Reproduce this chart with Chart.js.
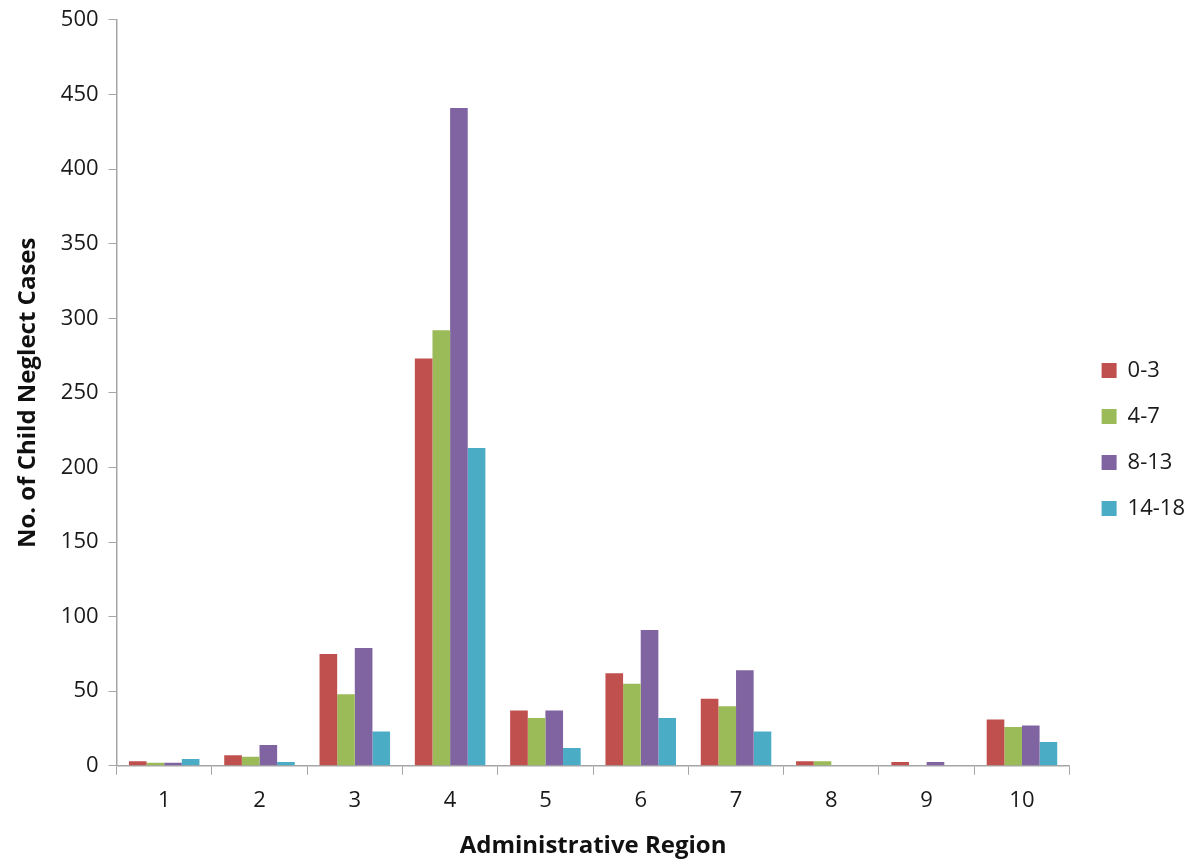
<!DOCTYPE html>
<html>
<head>
<meta charset="utf-8">
<script src="https://cdn.jsdelivr.net/npm/chart.js@4/dist/chart.umd.min.js"></script>
<style>
  html, body { margin: 0; padding: 0; background: #fff; }
  #wrap { width: 1201px; height: 863px; }
</style>
</head>
<body>
<div id="wrap"><canvas id="chart"></canvas></div>
<script>
// regions on the x axis
const regions = ['1', '2', '3', '4', '5', '6', '7', '8', '9', '10'];

// child neglect cases by age group
const age0to3 = [3, 7, 75, 273, 37, 62, 45, 3, 2.5, 31];
const age4to7 = [2, 6, 48, 292, 32, 55, 40, 3, 0, 26];
const age8to13 = [2, 14, 79, 441, 37, 91, 64, 0, 2.5, 27];
const age14to18 = [4.5, 2.5, 23, 213, 12, 32, 23, 0, 0, 16];

const yTicks = [0, 50, 100, 150, 200, 250, 300, 350, 400, 450, 500];

const fontFamily = "'Open Sans', 'Liberation Sans', sans-serif";
const axisGray = '#a6a6a6';

// leave a wider gap between the plot and the legend, like the original
const legendGap = {
    id: 'legendGap',
    beforeInit(chart) {
        const legend = chart.legend;
        if (!legend) return;
        const fit = legend.fit;
        legend.fit = function () {
            fit.call(this);
            this.width += 10;
        };
        const draw = legend.draw;
        legend.draw = function () {
            this.ctx.save();
            this.ctx.translate(8, 8);
            draw.call(this);
            this.ctx.restore();
        };
    }
};

new Chart(document.getElementById('chart'), {
    type: 'bar',
    data: {
        labels: regions,
        datasets: [
            { label: '0-3', data: age0to3, backgroundColor: '#c0504d' },
            { label: '4-7', data: age4to7, backgroundColor: '#9bbb59' },
            { label: '8-13', data: age8to13, backgroundColor: '#8064a2' },
            { label: '14-18', data: age14to18, backgroundColor: '#4bacc6' }
        ]
    },
    options: {
        responsive: true,
        maintainAspectRatio: false,
        animation: false,
        layout: { padding: { top: 0, right: 4, bottom: 0, left: 10 } },
        datasets: { bar: { categoryPercentage: 0.74, barPercentage: 1.0 } },
        plugins: {
            legend: {
                position: 'right',
                labels: {
                    boxWidth: 15,
                    boxHeight: 15,
                    padding: 24,
                    color: '#1a1a1a',
                    font: { family: fontFamily, size: 22 }
                }
            },
            tooltip: { enabled: false }
        },
        scales: {
            x: {
                grid: {
                    offset: true,
                    drawOnChartArea: false,
                    drawTicks: true,
                    tickLength: 9,
                    color: axisGray
                },
                border: { color: axisGray, width: 1.5 },
                ticks: { color: '#1a1a1a', font: { family: fontFamily, size: 22 }, padding: 13 },
                title: {
                    display: true,
                    text: 'Administrative Region',
                    color: '#111',
                    font: { family: fontFamily, size: 24, weight: 'bold' },
                    padding: { top: 5, bottom: 2 }
                }
            },
            y: {
                min: 0,
                max: 500,
                afterBuildTicks: axis => { axis.ticks = yTicks.map(v => ({ value: v })); },
                grid: {
                    drawOnChartArea: false,
                    drawTicks: true,
                    tickLength: 8,
                    color: axisGray
                },
                border: { color: axisGray, width: 1.5 },
                ticks: { color: '#1a1a1a', font: { family: fontFamily, size: 22, lineHeight: 0.9 }, padding: 10 },
                title: {
                    display: true,
                    text: 'No. of Child Neglect Cases',
                    color: '#111',
                    font: { family: fontFamily, size: 24, weight: 'bold' },
                    padding: { bottom: 8 }
                }
            }
        }
    },
    plugins: [legendGap]
});
</script>
</body>
</html>
